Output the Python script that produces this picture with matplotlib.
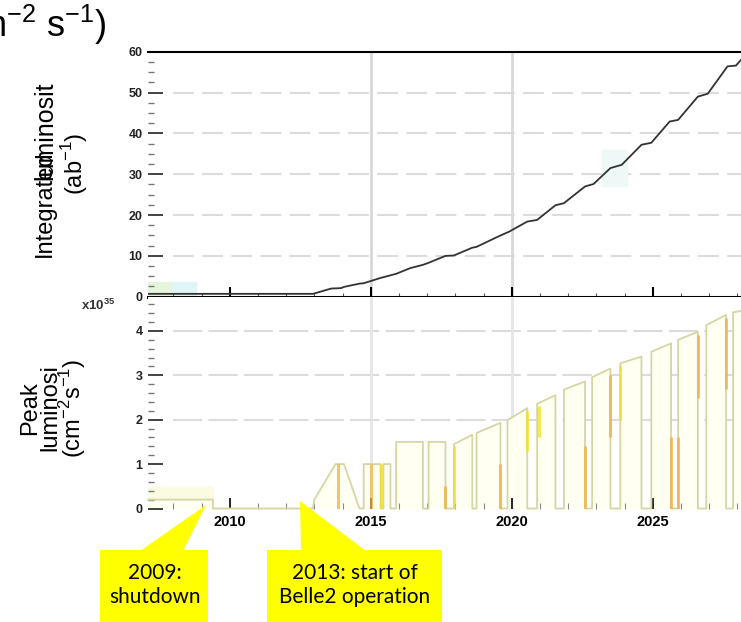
import numpy as np
import matplotlib.pyplot as plt
from matplotlib.patches import Rectangle, Polygon
from matplotlib.ticker import MultipleLocator

plt.rcParams['font.family'] = ['Liberation Sans', 'DejaVu Sans']
plt.rcParams['mathtext.fontset'] = 'custom'
plt.rcParams['mathtext.rm'] = 'Liberation Sans'
plt.rcParams['mathtext.bf'] = 'Liberation Sans:bold'

# Integrated luminosity (ab^-1) vs year
int_year = [2007.1, 2012.95, 2013.6, 2013.95, 2014.05, 2014.6, 2014.75, 2015.35,
            2015.9, 2016.4, 2016.85, 2017.05, 2017.65, 2017.95, 2018.6, 2018.75,
            2019.6, 2019.9, 2020.55, 2020.9, 2021.55, 2021.85, 2022.6, 2022.9,
            2023.5, 2023.9, 2024.6, 2024.95, 2025.6, 2025.9, 2026.6, 2026.95,
            2027.65, 2027.95, 2028.13]
int_lumi = [0.7, 0.7, 2.0, 2.1, 2.4, 3.2, 3.3, 4.6,
            5.6, 7.0, 7.8, 8.3, 10.0, 10.1, 12.0, 12.2,
            15.0, 15.9, 18.4, 18.8, 22.4, 22.9, 27.0, 27.6,
            31.5, 32.3, 37.2, 37.7, 42.9, 43.3, 49.0, 49.7,
            56.4, 56.6, 58.0]

# Peak luminosity (1e35 cm^-2 s^-1), with shutdowns dropping to zero
peak_year = [2007.1, 2009.4, 2009.4, 2012.95, 2013.0, 2013.75, 2014.05, 2014.6,
             2014.75, 2014.75, 2015.35, 2015.35, 2015.45, 2015.45, 2015.7, 2015.7,
             2015.9, 2015.9, 2016.85, 2016.85, 2017.05, 2017.05, 2017.65, 2017.65,
             2017.95, 2017.95, 2018.6, 2018.6, 2018.75, 2018.75, 2019.6, 2019.6,
             2019.85, 2019.85, 2020.55, 2020.55, 2020.9, 2020.9, 2021.55, 2021.55,
             2021.85, 2021.85, 2022.6, 2022.6, 2022.85, 2022.85, 2023.5, 2023.5,
             2023.85, 2023.85, 2024.6, 2024.6, 2024.95, 2024.95, 2025.65, 2025.65,
             2025.9, 2025.9, 2026.6, 2026.6, 2026.9, 2026.9, 2027.6, 2027.6,
             2027.85, 2027.85, 2028.13]
peak_lumi = [0.2, 0.2, 0.0, 0.0, 0.2, 1.0, 1.0, 0.0,
             0.0, 1.0, 1.0, 0.0, 0.0, 1.0, 1.0, 0.0,
             0.0, 1.5, 1.5, 0.0, 0.0, 1.5, 1.5, 0.0,
             0.0, 1.45, 1.66, 0.0, 0.0, 1.7, 1.93, 0.0,
             0.0, 1.99, 2.26, 0.0, 0.0, 2.36, 2.55, 0.0,
             0.0, 2.68, 2.86, 0.0, 0.0, 2.96, 3.15, 0.0,
             0.0, 3.27, 3.42, 0.0, 0.0, 3.53, 3.72, 0.0,
             0.0, 3.8, 3.98, 0.0, 0.0, 4.13, 4.36, 0.0,
             0.0, 4.42, 4.45]

# Highlighted shutdown edges
mark_year = [2013.85, 2015.0, 2015.35, 2017.65, 2017.95, 2019.6, 2020.55, 2020.95,
             2022.6, 2023.5, 2023.85, 2025.65, 2025.9, 2026.6, 2027.6]
mark_low = [0.0, 0.0, 0.0, 0.0, 0.0, 0.0, 1.3, 1.6,
            0.0, 1.6, 2.0, 0.0, 0.0, 2.5, 2.7]
mark_high = [1.0, 1.0, 1.0, 0.5, 1.4, 1.0, 2.2, 2.3,
             1.4, 3.0, 3.2, 1.6, 1.6, 3.9, 4.3]
mark_colors = ['#f0b040', '#f0b040', '#f3e020', '#f0b040', '#f3e020', '#f0b040',
               '#f3e020', '#f3e020', '#f0b040', '#f0b040', '#f3e020', '#f0b040',
               '#f0b040', '#f0b040', '#f0b040']

W, H = 741, 622


def px(x, y):
    return (x / W, 1 - y / H)


fig = plt.figure(figsize=(W / 100, H / 100), dpi=100)
left, right = 148, 741
top1, bot1, bot2 = 51.7, 296.7, 508.5
ax1 = fig.add_axes([left / W, 1 - bot1 / H, (right - left) / W, (bot1 - top1) / H])
ax2 = fig.add_axes([left / W, 1 - bot2 / H, (right - left) / W, (bot2 - bot1) / H],
                   sharex=ax1)

xmin, xmax = 2007.1, 2028.13

# ---- top panel: integrated luminosity
ax1.set_xlim(xmin, xmax)
ax1.set_ylim(0, 60)
for y in [10, 20, 30, 40, 50]:
    ax1.axhline(y, xmin=0.042, color='#dcdcdc', lw=1.5, dashes=(10, 4), zorder=0)
ax1.axvspan(2007.1, 2007.9, ymax=0.06, color='#e6f6dc', zorder=0)
ax1.axvspan(2007.9, 2008.8, ymax=0.06, color='#e0f6f6', zorder=0)
ax1.axvspan(2023.2, 2024.1, ymin=0.45, ymax=0.6, color='#eef9f7', zorder=0)
for yr in [2015, 2020]:
    ax1.axvline(yr, color='#d8d8d8', lw=2, zorder=0)
ax1.plot(int_year, int_lumi, color='#333333', lw=1.3)

for s in ['left', 'right']:
    ax1.spines[s].set_visible(False)
ax1.spines['top'].set_linewidth(1.5)
ax1.spines['bottom'].set_linewidth(2.2)
ax1.yaxis.set_major_locator(MultipleLocator(10))
ax1.yaxis.set_minor_locator(MultipleLocator(2.5))
ax1.tick_params(axis='y', which='major', direction='in', length=11, width=1.2,
                labelsize=9, pad=4, colors='#222222')
ax1.tick_params(axis='y', which='minor', direction='in', length=4, width=1,
                color='#777777')
ax1.set_xticks([2015, 2020])
ax1.set_xticks(np.arange(2008, 2029), minor=True)
ax1.tick_params(axis='x', which='major', direction='inout', length=14, width=1.5,
                labelbottom=False)
ax1.tick_params(axis='x', which='minor', direction='inout', length=6, width=0.8,
                color='#555555')
for lab in ax1.get_yticklabels():
    lab.set_fontweight('bold')

# ---- bottom panel: peak luminosity
ax2.set_ylim(0, (bot2 - bot1) / 44.4)
for y in [2, 3, 4]:
    ax2.axhline(y, xmin=0.042, color='#dcdcdc', lw=1.5, dashes=(14, 3), zorder=0)
for yr in [2015, 2020]:
    ax2.axvline(yr, color='#e6e6e6', lw=2, zorder=0)
ax2.axvspan(2007.1, 2009.4, ymax=0.1, color='#fbfbe2', zorder=0)
ax2.fill_between(peak_year, peak_lumi, color='#fffff2', lw=0, zorder=0)
ax2.plot(peak_year, peak_lumi, color='#d6d6a4', lw=1.3, clip_on=False)
ax2.vlines(mark_year, mark_low, mark_high, colors=mark_colors, lw=2.2, alpha=0.75)

for s in ax2.spines.values():
    s.set_visible(False)
ax2.yaxis.set_major_locator(MultipleLocator(1))
ax2.yaxis.set_minor_locator(MultipleLocator(0.2))
ax2.tick_params(axis='y', which='major', direction='in', length=11, width=1.2,
                labelsize=9, pad=4, colors='#222222')
ax2.tick_params(axis='y', which='minor', direction='in', length=4, width=1,
                color='#777777')
ax2.set_xticks([2010, 2015, 2020, 2025])
ax2.tick_params(axis='x', which='major', direction='in', length=8, width=1.2,
                labelsize=10.5, pad=5, labelbottom=True)
ax2.tick_params(axis='x', which='minor', direction='in', length=4, width=0.8,
                color='#888888')
for lab in ax2.get_yticklabels() + ax2.get_xticklabels():
    lab.set_fontweight('bold')

fig.text(*px(98, 305), r'$\mathbf{x10^{35}}$', fontsize=9.5, color='#333333',
         ha='center', va='center')

# ---- axis titles
fig.text(*px(45, 257), 'Integrated', rotation=90, fontsize=17, ha='center', va='bottom')
fig.text(*px(45, 180), 'luminosit', rotation=90, fontsize=18, ha='center', va='bottom')
fig.text(*px(75, 164), '(ab$^{-1}$)', rotation=90, fontsize=17, ha='center', va='center')
fig.text(*px(54, 408), 'Peak\nluminosi\n(cm$^{-2}$s$^{-1}$)', rotation=90, fontsize=17,
         ha='center', va='center', multialignment='center', linespacing=0.85)

fig.text(*px(106, 37), 'cm$^{-2}$ s$^{-1}$)', fontsize=26, ha='right', va='baseline')

# ---- callouts
yellow = '#ffff00'
fig.add_artist(Polygon([px(140, 551), px(183, 551), px(206, 505)], closed=True,
                       transform=fig.transFigure, color=yellow, lw=0))
fig.add_artist(Polygon([px(301, 551), px(366, 551), px(300, 501)], closed=True,
                       transform=fig.transFigure, color=yellow, lw=0))
x0, y0 = px(100, 622)
fig.add_artist(Rectangle((x0, y0), 108 / W, 72 / H, transform=fig.transFigure,
                         color=yellow, lw=0))
x0, y0 = px(267, 622)
fig.add_artist(Rectangle((x0, y0), 175 / W, 72 / H, transform=fig.transFigure,
                         color=yellow, lw=0))
fig.text(*px(155, 585), '2009:\nshutdown', fontsize=15, family='Lato',
         ha='center', va='center', linespacing=1.25)
fig.text(*px(355, 585), '2013: start of\nBelle2 operation', fontsize=15, family='Lato',
         ha='center', va='center', linespacing=1.25)

fig.savefig('out.png', dpi=100)
